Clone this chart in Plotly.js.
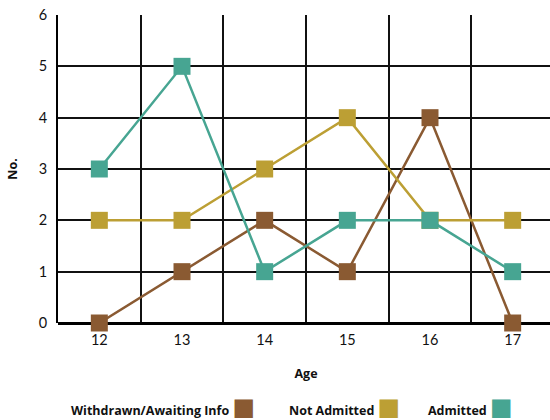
<!DOCTYPE html>
<html>
<head>
<meta charset="utf-8">
<script src="https://cdn.plot.ly/plotly-3.0.1.min.js"></script>
<style>
  html, body { margin: 0; padding: 0; overflow: hidden; background: #fff; }
  #chart { width: 556px; height: 420px; }
</style>
</head>
<body>
<div id="chart"></div>
<script>
// Applicants by age, per outcome
const ages = ["12", "13", "14", "15", "16", "17"];
const withdrawn = [0, 1, 2, 1, 4, 0];
const notAdmitted = [2, 2, 3, 4, 2, 2];
const admitted = [3, 5, 1, 2, 2, 1];

const seriesNames = ["Withdrawn/Awaiting Info", "Not Admitted", "Admitted"];
const seriesColors = ["#8a5a32", "#bc9f34", "#47a592"];
const seriesValues = [withdrawn, notAdmitted, admitted];

const FONT = "Lato, 'Open Sans', sans-serif";
const LEGEND_FONT = "'Open Sans', Lato, sans-serif";

const traces = seriesValues.map((vals, i) => ({
  type: "scatter",
  mode: "lines+markers",
  x: ages,
  y: vals,
  name: seriesNames[i],
  line: { color: seriesColors[i], width: 2.5 },
  marker: { symbol: "square", size: 17, color: seriesColors[i] },
  showlegend: false,
  cliponaxis: false
}));

// Legend drawn as text followed by a coloured square
const legendX = [0.022, 0.462, 0.742];
const annotations = seriesNames.map((n, i) => ({
  xref: "paper", yref: "paper",
  x: legendX[i], y: -0.272,
  xanchor: "left", yanchor: "middle",
  showarrow: false,
  text: "<b>" + n + "</b> <span style=\"color:" + seriesColors[i] + ";font-family:'DejaVu Sans';font-size:24px\">■</span>",
  font: { family: LEGEND_FONT, size: 12.5, color: "#111" }
}));

const layout = {
  width: 556, height: 420,
  margin: { l: 58, r: 2, t: 15, b: 97 },
  paper_bgcolor: "#fff", plot_bgcolor: "#fff",
  font: { family: FONT, size: 14, color: "#111" },
  xaxis: {
    type: "category",
    range: [-0.5, 5.5],
    tickson: "boundaries",
    showgrid: true, gridcolor: "#111", gridwidth: 2,
    ticks: "", showline: false, zeroline: false,
    ticklabelstandoff: 6,
    tickfont: { family: FONT, size: 14.5, color: "#111" },
    title: { text: "<b>Age</b>", font: { family: LEGEND_FONT, size: 12.5, color: "#111" }, standoff: 22 },
    automargin: false
  },
  yaxis: {
    range: [0, 6],
    dtick: 1,
    showgrid: true, gridcolor: "#111", gridwidth: 2,
    zeroline: true, zerolinecolor: "#000", zerolinewidth: 3,
    showline: true, linecolor: "#000", linewidth: 2,
    ticks: "", ticklabelstandoff: 6,
    tickfont: { family: FONT, size: 14.5, color: "#111" },
    title: { text: "<b>No.</b>", font: { family: LEGEND_FONT, size: 12.5, color: "#111" }, standoff: 18 },
    automargin: false
  },
  annotations: annotations
};

Plotly.newPlot("chart", traces, layout, { displayModeBar: false, staticPlot: true });
</script>
</body>
</html>
